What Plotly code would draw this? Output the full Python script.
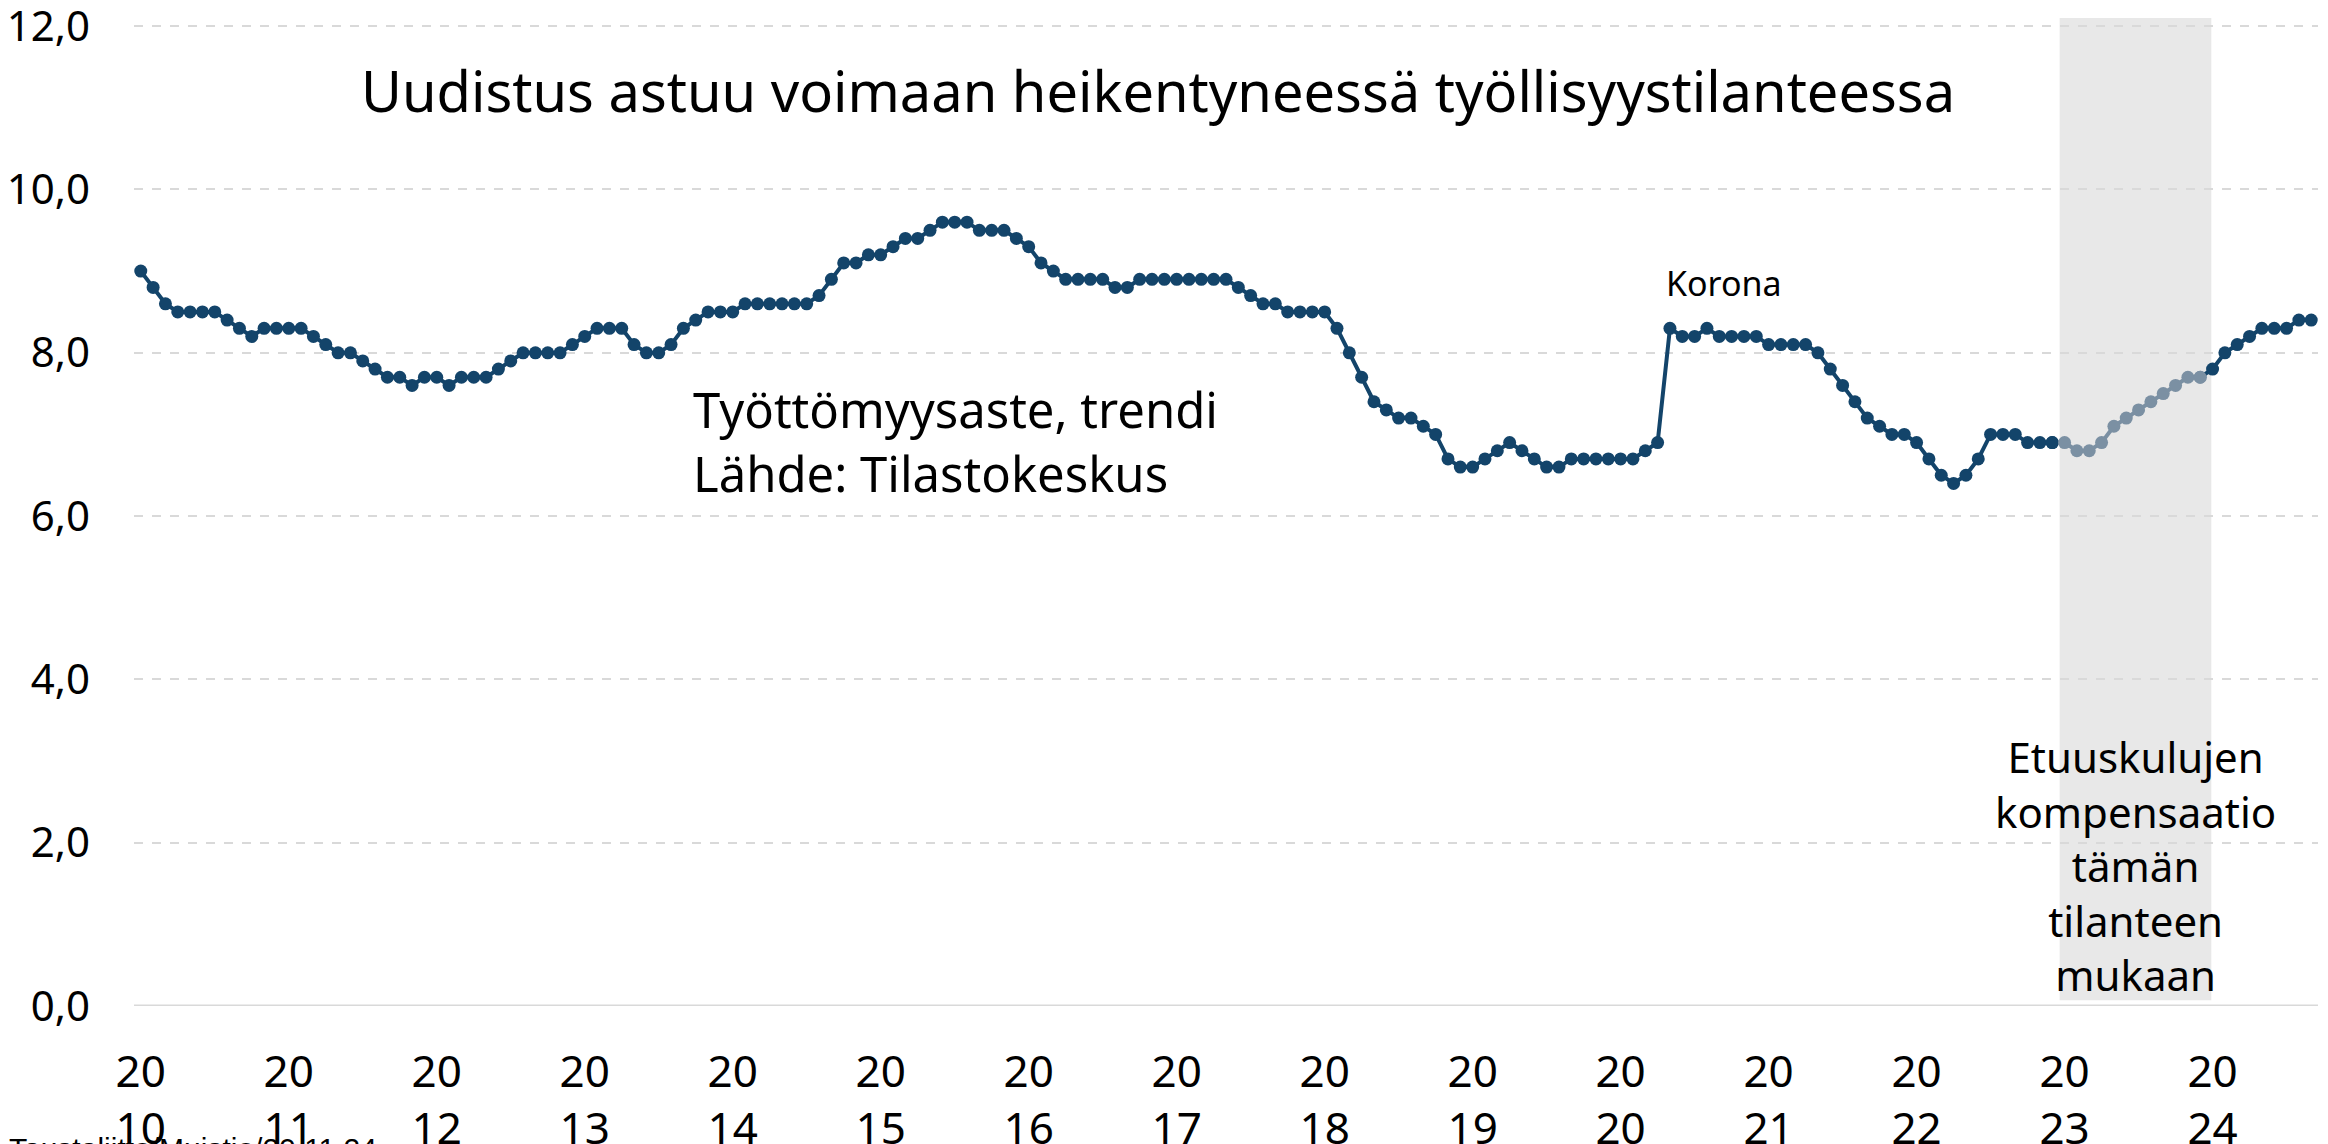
import plotly.graph_objects as go

# ---- data (monthly unemployment rate, trend, %) ----
years = [str(y) for y in range(2010, 2025)]
rate_2010 = [9.0, 8.8, 8.6, 8.5, 8.5, 8.5, 8.5, 8.4, 8.3, 8.2, 8.3, 8.3]
rate_2011 = [8.3, 8.3, 8.2, 8.1, 8.0, 8.0, 7.9, 7.8, 7.7, 7.7, 7.6, 7.7]
rate_2012 = [7.7, 7.6, 7.7, 7.7, 7.7, 7.8, 7.9, 8.0, 8.0, 8.0, 8.0, 8.1]
rate_2013 = [8.2, 8.3, 8.3, 8.3, 8.1, 8.0, 8.0, 8.1, 8.3, 8.4, 8.5, 8.5]
rate_2014 = [8.5, 8.6, 8.6, 8.6, 8.6, 8.6, 8.6, 8.7, 8.9, 9.1, 9.1, 9.2]
rate_2015 = [9.2, 9.3, 9.4, 9.4, 9.5, 9.6, 9.6, 9.6, 9.5, 9.5, 9.5, 9.4]
rate_2016 = [9.3, 9.1, 9.0, 8.9, 8.9, 8.9, 8.9, 8.8, 8.8, 8.9, 8.9, 8.9]
rate_2017 = [8.9, 8.9, 8.9, 8.9, 8.9, 8.8, 8.7, 8.6, 8.6, 8.5, 8.5, 8.5]
rate_2018 = [8.5, 8.3, 8.0, 7.7, 7.4, 7.3, 7.2, 7.2, 7.1, 7.0, 6.7, 6.6]
rate_2019 = [6.6, 6.7, 6.8, 6.9, 6.8, 6.7, 6.6, 6.6, 6.7, 6.7, 6.7, 6.7]
rate_2020 = [6.7, 6.7, 6.8, 6.9, 8.3, 8.2, 8.2, 8.3, 8.2, 8.2, 8.2, 8.2]
rate_2021 = [8.1, 8.1, 8.1, 8.1, 8.0, 7.8, 7.6, 7.4, 7.2, 7.1, 7.0, 7.0]
rate_2022 = [6.9, 6.7, 6.5, 6.4, 6.5, 6.7, 7.0, 7.0, 7.0, 6.9, 6.9, 6.9]
rate_2023 = [6.9, 6.8, 6.8, 6.9, 7.1, 7.2, 7.3, 7.4, 7.5, 7.6, 7.7, 7.7]
rate_2024 = [7.8, 8.0, 8.1, 8.2, 8.3, 8.3, 8.3, 8.4, 8.4]

yearly = [rate_2010, rate_2011, rate_2012, rate_2013, rate_2014, rate_2015, rate_2016,
          rate_2017, rate_2018, rate_2019, rate_2020, rate_2021, rate_2022, rate_2023, rate_2024]
months = []
values = []
for y, vals in zip(years, yearly):
    for m, v in enumerate(vals):
        months.append(f"{y}-{m + 1:02d}")
        values.append(v)
x = list(range(len(values)))

tick_labels = [f"{y[:2]}<br>{y[2:]}" for y in years]
tick_pos = [months.index(f"{y}-01") for y in years]
y_ticks = [0, 2, 4, 6, 8, 10, 12]

highlight_start = months.index("2023-01")
highlight_end = months.index("2023-12")

DARK = "#13446a"
GRAY = "#7b90a3"
FONT = "Noto Sans"

fig = go.Figure()

i0 = highlight_start - 1
fig.add_trace(go.Scatter(
    x=x[:i0 + 1], y=values[:i0 + 1], mode="lines+markers",
    line=dict(color=DARK, width=4), marker=dict(color=DARK, size=13),
    hoverinfo="skip", showlegend=False))
seg = slice(i0, highlight_end + 1)
fig.add_trace(go.Scatter(
    x=x[seg], y=values[seg], mode="lines+markers",
    line=dict(color=GRAY, width=4),
    marker=dict(color=[DARK] + [GRAY] * (highlight_end - i0), size=13),
    hoverinfo="skip", showlegend=False))
seg2 = slice(highlight_end, len(values))
fig.add_trace(go.Scatter(
    x=x[seg2], y=values[seg2], mode="lines+markers",
    line=dict(color=DARK, width=4),
    marker=dict(color=[GRAY] + [DARK] * (len(values) - highlight_end - 1), size=13),
    hoverinfo="skip", showlegend=False))

fig.add_shape(type="rect", xref="x", yref="y",
              x0=highlight_start - 0.4, x1=highlight_end + 0.9, y0=0.07, y1=12.1,
              fillcolor="#e8e8e8", line=dict(width=0), layer="below")
fig.add_shape(type="line", xref="paper", yref="y", x0=0, x1=1, y0=0, y1=0,
              line=dict(color="#d9d9d9", width=3), layer="above")

fig.add_annotation(xref="paper", yref="y", x=0.469, y=11.22,
                   text="Uudistus astuu voimaan heikentyneessä työllisyystilanteessa",
                   showarrow=False, xanchor="center", yanchor="middle",
                   font=dict(family=FONT, size=56, color="black"))
fig.add_annotation(xref="x", yref="y", x=44.6, y=6.92,
                   text="Työttömyysaste, trendi<br>Lähde: Tilastokeskus",
                   showarrow=False, xanchor="left", yanchor="middle", align="left",
                   font=dict(family=FONT, size=49, color="black"))
fig.add_annotation(xref="x", yref="y", x=128.4, y=8.86,
                   text="Korona", showarrow=False, xanchor="center", yanchor="middle",
                   font=dict(family=FONT, size=34, color="black"))
fig.add_annotation(xref="x", yref="y", x=161.75, y=1.72,
                   text="Etuuskulujen<br>kompensaatio<br>tämän<br>tilanteen<br>mukaan",
                   showarrow=False, xanchor="center", yanchor="middle", align="center",
                   font=dict(family=FONT, size=42, color="black"))
fig.add_annotation(xref="paper", yref="paper", x=-0.058, y=-0.126,
                   text="Taustaliitto/Muistio/20.11.24", showarrow=False,
                   xanchor="left", yanchor="top",
                   font=dict(family="Liberation Sans", size=30, color="black"))

fig.update_layout(
    width=2328, height=1144, autosize=False,
    margin=dict(l=126, r=18, t=10, b=146, autoexpand=False),
    paper_bgcolor="white", plot_bgcolor="white",
    separators=", ",
    font=dict(family=FONT, color="black"),
    xaxis=dict(range=[-0.55, 176.55], tickmode="array", tickvals=tick_pos,
               ticktext=tick_labels, showgrid=False, zeroline=False, showline=False,
               ticks="", tickfont=dict(family=FONT, size=44, color="black"),
               ticklabelstandoff=36, automargin=False, fixedrange=True),
    yaxis=dict(range=[0, 12.1], tickmode="array", tickvals=y_ticks,
               tickformat=".1f", showgrid=True, gridcolor="#d9d9d9", griddash="dash",
               gridwidth=2, zeroline=False, showline=False, ticks="",
               tickfont=dict(family=FONT, size=42, color="black"),
               ticklabelstandoff=43, automargin=False, ticklabeloverflow="allow",
               fixedrange=True),
)

fig.write_html("out.html")
